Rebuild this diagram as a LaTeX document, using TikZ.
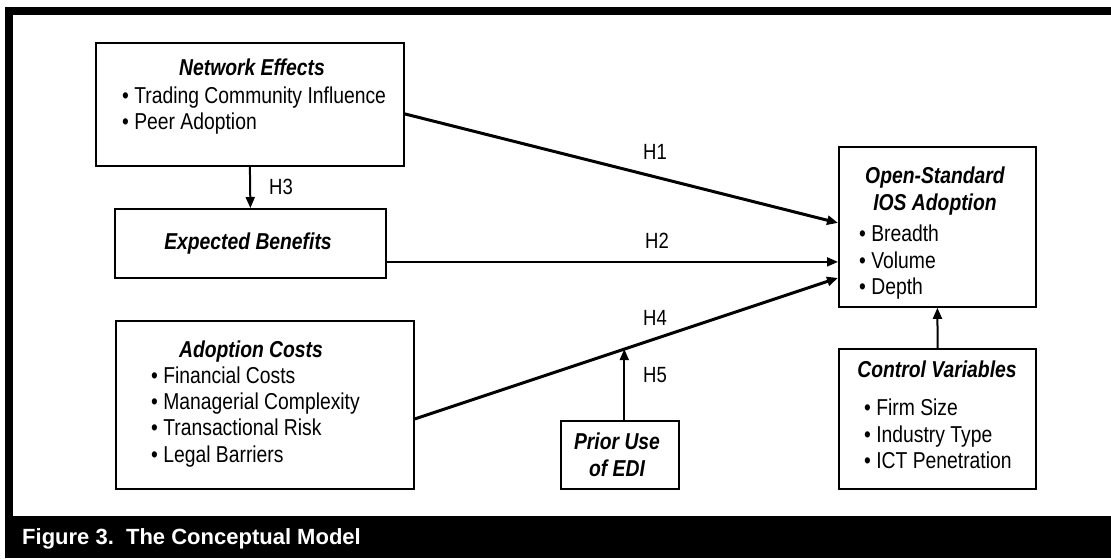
\documentclass[tikz,border=0pt]{standalone}
\usepackage{fontspec}
\setmainfont[FakeStretch=0.84]{Liberation Sans}
\newfontfamily\capfont{Liberation Sans}
\usetikzlibrary{arrows.meta,calc}
\begin{document}
\begin{tikzpicture}[x=1pt,y=-1pt,
  box/.style={draw=black,line width=1.8pt,rectangle,inner sep=0pt,anchor=north west},
  ttl/.style={font=\fontsize{23}{27}\selectfont\bfseries\itshape,anchor=base,inner sep=0pt},
  itm/.style={font=\fontsize{23}{27}\selectfont,anchor=base west,inner sep=0pt},
  hyp/.style={font=\fontsize{22}{26}\selectfont,anchor=base west,inner sep=0pt},
  link/.style={line width=2pt,-{Triangle[length=11pt,width=9pt]}},
  heavy/.style={line width=3pt,-{Triangle[length=11pt,width=9pt]}}]
\useasboundingbox[fill=white] (0,0) rectangle (1111,558);

% frame and caption band
\fill[black] (5,7) rectangle (1111,15);
\fill[black] (5,7) rectangle (13,516);
\fill[black] (5,516) rectangle (1111,558);
\node[font=\capfont\fontsize{22}{26}\selectfont\bfseries,text=white,anchor=base west,inner sep=0pt] (cap) at (22,544) {Figure 3.\ \ The Conceptual Model};

% boxes
\node[box,minimum width=308pt,minimum height=123pt] (ne) at (95,42) {};
\node[box,minimum width=271pt,minimum height=69pt] (eb) at (114,208) {};
\node[box,minimum width=298pt,minimum height=168pt] (ac) at (115,320) {};
\node[box,minimum width=118pt,minimum height=68pt] (pu) at (560,420) {};
\node[box,minimum width=197pt,minimum height=160pt] (os) at (838,146) {};
\node[box,line width=2.2pt,minimum width=197pt,minimum height=140pt] (cv) at (838,348) {};

% box texts
\node[ttl] (neT) at (252,75) {Network Effects};
\node[itm] (ne1) at (122,103) {• Trading Community Influence};
\node[itm] (ne2) at (122,129) {• Peer Adoption};

\node[ttl] (ebT) at (248,249) {Expected Benefits};

\node[ttl] (acT) at (251,357) {Adoption Costs};
\node[itm] (ac1) at (151,383) {• Financial Costs};
\node[itm] (ac2) at (151,409) {• Managerial Complexity};
\node[itm] (ac3) at (151,435) {• Transactional Risk};
\node[itm] (ac4) at (151,462) {• Legal Barriers};

\node[ttl] (puT1) at (617,449) {Prior Use};
\node[ttl] (puT2) at (617,476) {of EDI};

\node[ttl] (osT1) at (935,183) {Open-Standard};
\node[ttl] (osT2) at (935,210) {IOS Adoption};
\node[itm] (os1) at (859,241) {• Breadth};
\node[itm] (os2) at (859,268) {• Volume};
\node[itm] (os3) at (859,294) {• Depth};

\node[ttl] (cvT) at (937,377) {Control Variables};
\node[itm] (cv1) at (864,415) {• Firm Size};
\node[itm] (cv2) at (864,442) {• Industry Type};
\node[itm] (cv3) at (864,468) {• ICT Penetration};

% connectors
\draw[heavy] ([yshift=-9.5pt]ne.east) -- ([yshift=4pt]os.west);
\draw[link] ([yshift=-18.5pt]eb.east) -- ([yshift=-35pt]os.west);
\coordinate (h4s) at ([yshift=-14pt]ac.east);
\coordinate (h4e) at ([yshift=-51pt]os.west);
\draw[heavy] (h4s) -- (h4e);
\coordinate (mod) at ($(h4s)!0.495!(h4e)$);
\draw[link] (pu.north -| mod) -- (mod);
\draw[link] (ne.south) -- (eb.north);
\draw[link] (cv.north) -- (os.south);

% hypothesis labels
\node[hyp] (h1) at (643,159) {H1};
\node[hyp] (h2) at (645,248) {H2};
\node[hyp] (h3) at (269,194) {H3};
\node[hyp] (h4) at (643,325) {H4};
\node[hyp] (h5) at (643,382) {H5};
\end{tikzpicture}
\end{document}
